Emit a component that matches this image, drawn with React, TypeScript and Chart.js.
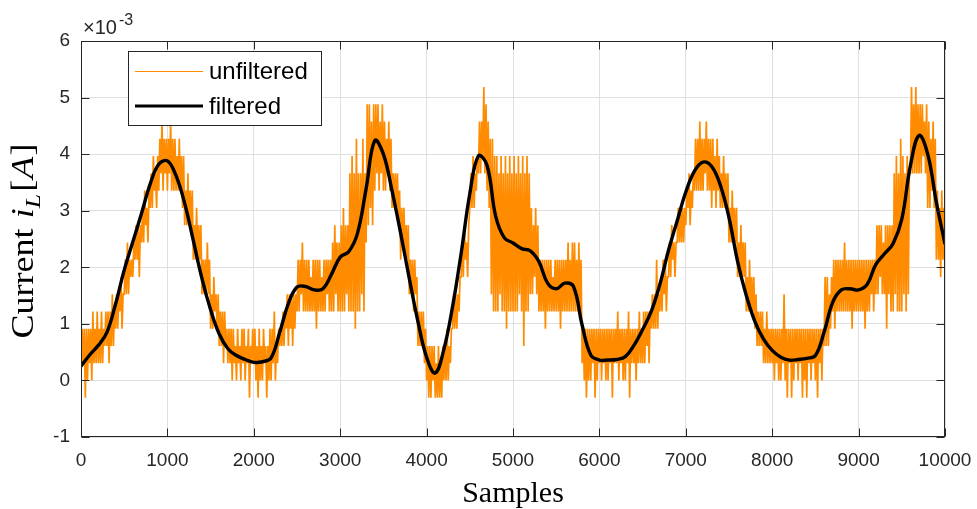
import React, { useEffect, useRef } from "react";
import { Chart, registerables } from "chart.js";

Chart.register(...registerables);

// ---------------- data ----------------
// Unfiltered ADC signal: quantisation level index, one value every 12.5 samples
const RAW_SAMPLE_STEP = 12.5;
const LSB = 0.305; // one ADC level, in units of 1e-3 A
const RAW_LEVELS: number[] = [
  0, 3, 1, 3, -1, 3, 0, 3, 1, 3, 0, 4, 1, 3, 1, 4, 1, 3, 1, 4, 1, 3, 2, 4, 2, 4, 1, 4, 2, 5, 2, 4, 3, 5, 3, 5, 4, 6, 3, 5,
  5, 7, 5, 8, 5, 7, 6, 7, 6, 8, 7, 9, 7, 9, 6, 9, 8, 10, 8, 11, 9, 10, 8, 11, 10, 12, 10, 13, 11, 12, 10, 13, 11, 14, 12, 15, 11, 14, 12, 14,
  11, 14, 12, 15, 11, 14, 11, 14, 11, 13, 11, 14, 11, 13, 10, 13, 9, 11, 9, 12, 9, 11, 9, 11, 7, 9, 7, 10, 7, 9, 7, 9, 5, 7, 5, 7, 5, 8, 5, 7,
  3, 5, 3, 6, 4, 5, 3, 5, 2, 4, 2, 4, 1, 4, 2, 3, 1, 3, 1, 3, 0, 3, 1, 2, 0, 3, 1, 2, 0, 3, 1, 3, 0, 2, 1, 3, -1, 2, 1, 3,
  1, 3, 0, 2, -1, 3, 0, 2, 0, 3, 1, 2, -1, 2, 0, 3, 0, 3, 1, 4, 0, 2, 1, 3, 2, 3, 2, 4, 2, 4, 3, 5, 2, 5, 3, 5, 2, 5, 3, 5,
  4, 7, 4, 7, 5, 8, 4, 7, 4, 7, 4, 7, 4, 6, 4, 7, 4, 7, 3, 7, 4, 7, 4, 6, 4, 7, 4, 7, 5, 7, 4, 7, 4, 8, 4, 9, 5, 8, 4, 8,
  4, 9, 4, 10, 4, 9, 5, 9, 4, 12, 4, 13, 4, 12, 3, 14, 4, 12, 4, 12, 5, 14, 4, 12, 8, 16, 9, 16, 10, 15, 9, 16, 11, 16, 12, 16, 11, 15, 12, 16,
  11, 15, 11, 14, 12, 15, 11, 14, 10, 12, 10, 12, 10, 12, 9, 11, 7, 10, 8, 10, 7, 9, 7, 9, 5, 7, 5, 7, 4, 7, 5, 6, 2, 4, 2, 4, 2, 4, 1, 3,
  0, 2, -1, 2, -1, 2, 0, 2, -1, 1, -1, 2, -1, 1, -1, 2, 0, 2, 0, 3, 0, 2, 1, 3, 3, 5, 3, 5, 3, 5, 4, 6, 6, 8, 6, 9, 7, 8, 6, 9,
  10, 12, 10, 13, 10, 12, 11, 13, 12, 15, 12, 15, 13, 17, 12, 16, 11, 15, 10, 14, 5, 14, 4, 13, 4, 13, 4, 12, 5, 13, 4, 12, 4, 13, 3, 12, 4, 13, 4, 12,
  4, 13, 4, 12, 4, 13, 5, 12, 4, 13, 2, 12, 4, 13, 4, 12, 5, 10, 5, 9, 6, 10, 5, 9, 4, 7, 4, 7, 4, 7, 3, 7, 4, 7, 4, 7, 4, 6, 4, 7,
  4, 7, 4, 7, 3, 7, 4, 7, 4, 7, 4, 8, 4, 7, 4, 8, 4, 8, 4, 7, 4, 8, 4, 7, 1, 3, 0, 3, -1, 3, 0, 3, 0, 3, 1, 3, -1, 3, 0, 3,
  1, 3, 0, 3, 1, 3, 0, 3, 0, 3, 1, 3, -1, 3, 1, 3, 1, 4, 0, 3, 1, 3, 0, 3, 0, 3, 1, 4, -1, 3, 1, 3, 1, 3, 0, 3, 1, 4, 1, 3,
  1, 4, 1, 4, 2, 4, 1, 4, 3, 5, 3, 5, 3, 7, 3, 5, 4, 6, 4, 7, 5, 7, 4, 6, 6, 8, 6, 9, 7, 8, 6, 8, 8, 10, 8, 10, 8, 10, 8, 10,
  9, 11, 10, 12, 9, 11, 10, 12, 11, 14, 11, 14, 11, 15, 11, 14, 11, 14, 12, 15, 11, 14, 11, 14, 10, 14, 11, 13, 10, 14, 11, 13, 10, 12, 10, 13, 10, 12, 10, 12,
  8, 10, 8, 11, 8, 10, 8, 10, 6, 8, 6, 9, 6, 8, 6, 8, 4, 6, 4, 7, 4, 6, 4, 6, 3, 5, 2, 4, 2, 4, 2, 4, 1, 3, 1, 4, 1, 3, 1, 3,
  1, 3, 0, 3, 1, 3, 0, 3, 0, 3, 1, 5, 0, 3, -1, 3, 1, 3, -1, 3, 0, 3, 1, 3, 0, 3, 1, 3, -1, 3, 0, 3, -1, 3, 1, 3, 0, 3, 1, 3,
  0, 3, -1, 3, 1, 3, 0, 3, 2, 6, 2, 6, 2, 5, 3, 6, 4, 7, 3, 7, 4, 7, 4, 7, 4, 7, 4, 8, 4, 7, 4, 7, 4, 7, 3, 7, 4, 7, 4, 7,
  4, 7, 4, 7, 4, 7, 3, 7, 4, 7, 4, 7, 5, 7, 4, 7, 5, 9, 5, 9, 6, 9, 5, 8, 5, 9, 3, 9, 5, 9, 4, 9, 4, 12, 5, 13, 4, 12, 4, 14,
  4, 13, 5, 12, 4, 13, 5, 12, 12, 17, 12, 16, 12, 17, 12, 16, 12, 16, 12, 16, 13, 15, 12, 16, 10, 15, 10, 14, 11, 15, 10, 14, 7, 11, 7, 10, 6, 11, 7, 10,
  6,
];

// Filtered signal (units of 1e-3 A), one value every 100 samples
const FILTERED_SAMPLE_STEP = 100;
const FILTERED: number[] = [
  0.25, 0.45, 0.62, 0.85, 1.35, 1.95, 2.45, 2.95, 3.47, 3.82,
  3.88, 3.62, 3.13, 2.47, 1.8, 1.25, 0.82, 0.56, 0.44, 0.37,
  0.32, 0.33, 0.4, 0.85, 1.36, 1.65, 1.66, 1.6, 1.62, 1.88,
  2.18, 2.28, 2.6, 3.39, 4.24, 4.0, 3.35, 2.6, 1.8, 1.04,
  0.41, 0.13, 0.55, 1.3, 2.25, 3.3, 3.97, 3.8, 2.9, 2.52,
  2.43, 2.33, 2.29, 2.1, 1.72, 1.62, 1.72, 1.66, 0.98, 0.45,
  0.36, 0.36, 0.37, 0.42, 0.62, 0.9, 1.22, 1.7, 2.3, 2.82,
  3.33, 3.7, 3.86, 3.78, 3.45, 2.88, 2.1, 1.5, 1.04, 0.73,
  0.53, 0.41, 0.36, 0.37, 0.39, 0.44, 0.85, 1.38, 1.6, 1.62,
  1.6, 1.7, 2.05, 2.24, 2.42, 2.85, 3.8, 4.33, 4.0, 3.15,
  2.41,
];

const X_TICKS = [0, 1000, 2000, 3000, 4000, 5000, 6000, 7000, 8000, 9000, 10000];
const Y_TICKS = [-1, 0, 1, 2, 3, 4, 5, 6];
const LABEL_RAW = "unfiltered";
const LABEL_FILTERED = "filtered";
const X_TITLE = "Samples";
const Y_TITLE_WORD = "Current ";
const EXPONENT_TEXT = "-3";

// ---------------- styling ----------------
const AXIS_COLOR = "#262626";
const GRID_COLOR = "#dfdfdf";
const ORANGE = "#ff8c00";
const SANS = '"Liberation Sans", Arial, Helvetica, sans-serif';
const SERIF = '"Liberation Serif", "Times New Roman", serif';
const TICK_LEN = 8;

const decorPlugin = {
  id: "matlabDecor",
  afterDraw(chart: any) {
    const { ctx, chartArea: a, scales } = chart;
    const xs = scales.x;
    const ys = scales.y;
    ctx.save();

    // axes box
    ctx.strokeStyle = AXIS_COLOR;
    ctx.lineWidth = 1;
    const L = Math.round(a.left) + 0.5;
    const R = Math.round(a.right) - 0.5;
    const T = Math.round(a.top) + 0.5;
    const B = Math.round(a.bottom) - 0.5;
    ctx.strokeRect(L, T, R - L, B - T);

    // inward ticks on all four sides
    ctx.beginPath();
    X_TICKS.forEach((v) => {
      const px = Math.round(xs.getPixelForValue(v)) + 0.5;
      ctx.moveTo(px, B);
      ctx.lineTo(px, B - TICK_LEN);
      ctx.moveTo(px, T);
      ctx.lineTo(px, T + TICK_LEN);
    });
    Y_TICKS.forEach((v) => {
      const py = Math.round(ys.getPixelForValue(v)) + 0.5;
      ctx.moveTo(L, py);
      ctx.lineTo(L + TICK_LEN, py);
      ctx.moveTo(R, py);
      ctx.lineTo(R - TICK_LEN, py);
    });
    ctx.stroke();

    // exponent label "×10^-3"
    ctx.fillStyle = AXIS_COLOR;
    ctx.textAlign = "left";
    ctx.textBaseline = "alphabetic";
    ctx.font = `20px ${SANS}`;
    const base = "\u00d710";
    ctx.fillText(base, a.left + 2, 34);
    const bw = ctx.measureText(base).width;
    ctx.font = `16px ${SANS}`;
    ctx.fillText(EXPONENT_TEXT, a.left + 2 + bw + 2, 25);

    // x title
    ctx.fillStyle = "#000";
    ctx.font = `30px ${SERIF}`;
    ctx.textAlign = "center";
    ctx.fillText(X_TITLE, (a.left + a.right) / 2, 502);

    // y title: Current i_L[A]
    const parts = [
      { t: Y_TITLE_WORD, f: `31px ${SERIF}`, dy: 0, gap: 1 },
      { t: "i", f: `italic 31px ${SERIF}`, dy: 0, gap: 0 },
      { t: "L", f: `italic 22px ${SERIF}`, dy: 7, gap: 2 },
      { t: "[", f: `31px ${SERIF}`, dy: 0, gap: 1 },
      { t: "A", f: `italic 31px ${SERIF}`, dy: 0, gap: 1 },
      { t: "]", f: `31px ${SERIF}`, dy: 0, gap: 0 },
    ];
    let total = 0;
    const widths = parts.map((p) => {
      ctx.font = p.f;
      const w = ctx.measureText(p.t).width + p.gap;
      total += w;
      return w;
    });
    const targetLen = 195;
    const stretch = Math.min(1.2, Math.max(0.9, targetLen / total));
    ctx.save();
    ctx.translate(33, 241);
    ctx.rotate(-Math.PI / 2);
    ctx.scale(stretch, 1);
    ctx.textAlign = "left";
    let cx = -total / 2;
    parts.forEach((p, i) => {
      ctx.font = p.f;
      ctx.fillText(p.t, cx, p.dy);
      cx += widths[i];
    });
    ctx.restore();

    // legend
    const lx = 128.5, ly = 51.5, lw = 193, lh = 74;
    ctx.fillStyle = "#fff";
    ctx.fillRect(lx, ly, lw, lh);
    ctx.strokeStyle = AXIS_COLOR;
    ctx.lineWidth = 1;
    ctx.strokeRect(lx, ly, lw, lh);
    const ds = chart.data.datasets;
    const rows = [
      { y: 71.5, d: ds[0] },
      { y: 106, d: ds[1] },
    ];
    rows.forEach((r) => {
      ctx.beginPath();
      ctx.strokeStyle = r.d.borderColor;
      ctx.lineWidth = r.d.legendWidth;
      ctx.moveTo(135, r.y);
      ctx.lineTo(203, r.y);
      ctx.stroke();
      ctx.fillStyle = "#000";
      ctx.font = `24px ${SANS}`;
      ctx.textAlign = "left";
      ctx.textBaseline = "middle";
      ctx.fillText(r.d.label, 209, r.y + 1);
    });

    ctx.restore();
  },
};

export default function App() {
  const canvasRef = useRef<HTMLCanvasElement | null>(null);

  useEffect(() => {
    const canvas = canvasRef.current;
    if (!canvas) return;

    const rawPoints = RAW_LEVELS.map((k, i) => ({ x: i * RAW_SAMPLE_STEP, y: k * LSB }));
    const filteredPoints = FILTERED.map((v, i) => ({ x: i * FILTERED_SAMPLE_STEP, y: v }));

    const chart = new Chart(canvas, {
      type: "line",
      data: {
        datasets: [
          {
            label: LABEL_RAW,
            data: rawPoints,
            borderColor: ORANGE,
            borderWidth: 1.7,
            pointRadius: 0,
            tension: 0,
            order: 2,
            legendWidth: 1,
          } as any,
          {
            label: LABEL_FILTERED,
            data: filteredPoints,
            borderColor: "#000000",
            borderWidth: 3.4,
            pointRadius: 0,
            tension: 0.4,
            order: 1,
            legendWidth: 3,
          } as any,
        ],
      },
      options: {
        responsive: false,
        animation: false,
        layout: { padding: { left: 0, right: 32, top: 41, bottom: 0 } },
        plugins: {
          legend: { display: false },
          tooltip: { enabled: false },
          title: { display: false },
        },
        scales: {
          x: {
            type: "linear",
            min: 0,
            max: 10000,
            afterBuildTicks: (s: any) => {
              s.ticks = X_TICKS.map((v) => ({ value: v }));
            },
            afterFit: (s: any) => {
              s.height = 72;
              s.paddingLeft = 0;
              s.paddingRight = 0;
            },
            ticks: {
              color: AXIS_COLOR,
              font: { family: SANS, size: 19 },
              padding: 12,
              maxRotation: 0,
              autoSkip: false,
              callback: (v: any) => String(v),
            },
            grid: { color: GRID_COLOR, drawTicks: false, lineWidth: 1 },
            border: { display: false },
          },
          y: {
            type: "linear",
            min: -1,
            max: 6,
            afterBuildTicks: (s: any) => {
              s.ticks = Y_TICKS.map((v) => ({ value: v }));
            },
            afterFit: (s: any) => {
              s.width = 81;
              s.paddingTop = 0;
              s.paddingBottom = 0;
            },
            ticks: {
              color: AXIS_COLOR,
              font: { family: SANS, size: 19 },
              padding: 11,
              autoSkip: false,
              callback: (v: any) => String(v),
            },
            grid: { color: GRID_COLOR, drawTicks: false, lineWidth: 1 },
            border: { display: false },
          },
        },
      } as any,
      plugins: [decorPlugin],
    });

    return () => chart.destroy();
  }, []);

  return (
    <div style={{ position: "absolute", left: 0, top: 0, width: 977, height: 509, background: "#fff" }}>
      <canvas ref={canvasRef} width={977} height={509} style={{ display: "block" }} />
    </div>
  );
}
